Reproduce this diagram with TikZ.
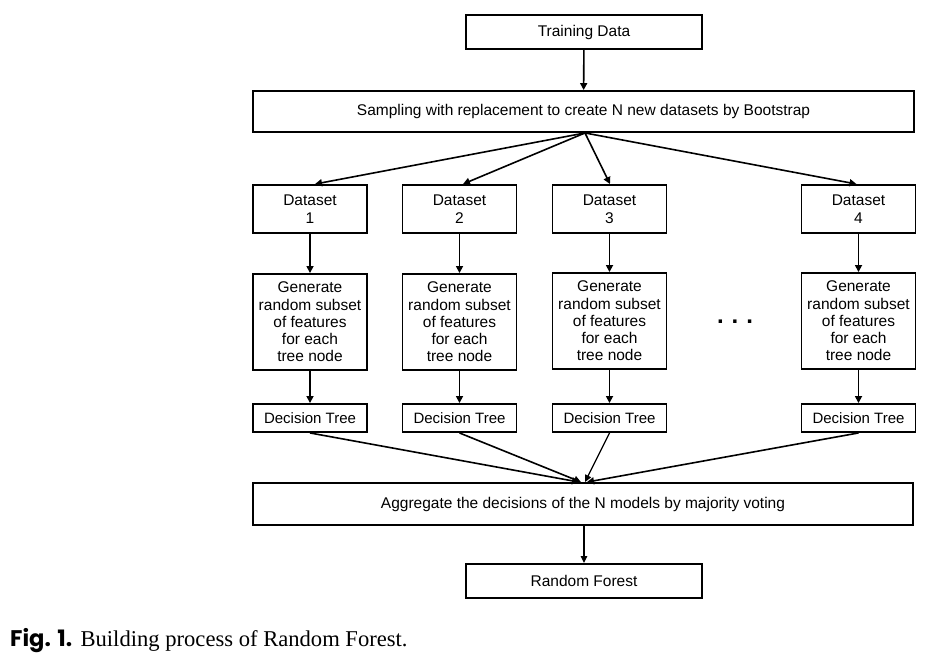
\documentclass[tikz,border=0pt]{standalone}
\usepackage{fontspec}
\setmainfont{Liberation Sans}
\newfontfamily\capserif{Liberation Serif}
\newfontfamily\capsans{Poppins}
\usetikzlibrary{arrows.meta}
\begin{document}
\begin{tikzpicture}[x=1pt,y=-1pt,
  box/.style={draw, line width=1.9pt, inner sep=0pt, align=center,
    font=\fontsize{15.5}{17.5}\selectfont},
  dsbox/.style={box, minimum width=114pt, minimum height=48pt,
    font=\fontsize{15.5}{18.5}\selectfont},
  genbox/.style={box, minimum width=114pt, minimum height=96pt,
    font=\fontsize{15.5}{17.2}\selectfont},
  dtbox/.style={box, minimum width=114pt, minimum height=28pt,
    font=\fontsize{15}{16}\selectfont},
  arr/.style={-{Triangle[length=7pt,width=7pt]}, line width=1.6pt},
  thinarr/.style={-{Triangle[length=7pt,width=6.5pt]}, line width=1.2pt}]
\path[use as bounding box] (0,0) rectangle (935,659);

\node[box, minimum width=236pt, minimum height=34pt] (td) at (584,32) {Training Data};
\node[box, minimum width=661pt, minimum height=41pt] (samp) at (583.5,111.5)
  {Sampling with replacement to create N new datasets by Bootstrap};

\node[dsbox] (d1) at (310,209) {Dataset\\1};
\node[dsbox] (d2) at (459.5,209) {Dataset\\2};
\node[dsbox] (d3) at (609.5,209) {Dataset\\3};
\node[dsbox] (d4) at (858.5,209) {Dataset\\4};

\node[genbox] (g1) at (310,322) {Generate\\random subset\\of features\\for each\\tree node};
\node[genbox] (g2) at (459.5,322) {Generate\\random subset\\of features\\for each\\tree node};
\node[genbox] (g3) at (609.5,321) {Generate\\random subset\\of features\\for each\\tree node};
\node[genbox] (g4) at (858.5,321) {Generate\\random subset\\of features\\for each\\tree node};

\node[font=\fontsize{24}{24}\selectfont\bfseries] (dots) at (735,322) {.\hspace{8pt}.\hspace{8pt}.};

\node[dtbox] (t1) at (310,418) {Decision Tree};
\node[dtbox] (t2) at (459.5,418) {Decision Tree};
\node[dtbox] (t3) at (609.5,418) {Decision Tree};
\node[dtbox] (t4) at (858.5,418) {Decision Tree};

\node[box, minimum width=660pt, minimum height=42pt] (agg) at (583,504)
  {Aggregate the decisions of the N models by majority voting};
\node[box, minimum width=236pt, minimum height=34pt] (rf) at (584,581) {Random Forest};

\draw[arr] (td) -- (samp);
\draw[arr] ([xshift=1.5pt]samp.south) -- ([xshift=5pt]d1.north);
\draw[arr] ([xshift=1.5pt]samp.south) -- ([xshift=3.5pt]d2.north);
\draw[arr] ([xshift=1.5pt]samp.south) -- ([xshift=0.5pt]d3.north);
\draw[arr] ([xshift=1.5pt]samp.south) -- ([xshift=-2pt]d4.north);

\foreach \i in {1,2,3,4}{
  \draw[arr] (d\i) -- (g\i);
  \draw[arr] (g\i) -- (t\i);
}

\draw[arr] (t1.south) -- ([xshift=-4pt]agg.north);
\draw[arr] (t2.south) -- ([xshift=-2pt]agg.north);
\draw[thinarr] (t3.south) -- ([xshift=2pt]agg.north);
\draw[arr] (t4.south) -- ([xshift=4pt]agg.north);

\draw[thinarr] ([xshift=1pt]agg.south) -- ([xshift=0pt]rf.north);

\node[anchor=base west, inner sep=0pt, font=\fontsize{22.6}{25}\selectfont] (cap) at (10,646)
  {{\capsans\bfseries Fig. 1.} {\capserif Building process of Random Forest.}};
\end{tikzpicture}
\end{document}
